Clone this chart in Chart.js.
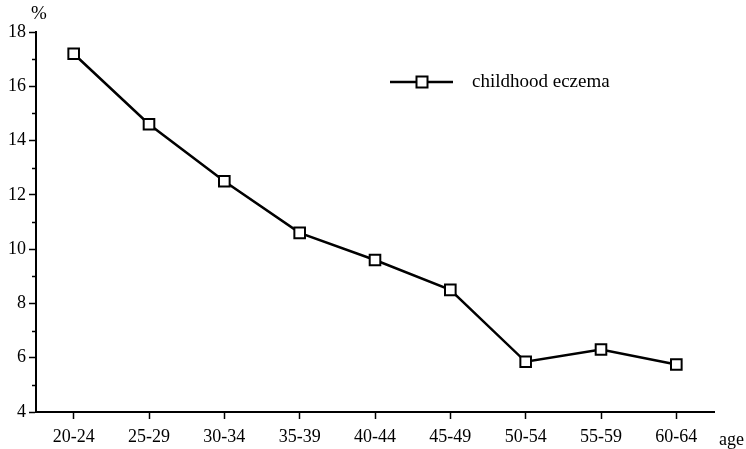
<!DOCTYPE html>
<html>
<head>
<meta charset="utf-8">
<script src="https://cdn.jsdelivr.net/npm/chart.js@4"></script>
<style>
  html, body { margin: 0; padding: 0; background: #fff; }
  #wrap { width: 746px; height: 449px; position: relative; }
</style>
</head>
<body>
<div id="wrap"><canvas id="chart"></canvas></div>
<script>
const ageGroups = ["20-24", "25-29", "30-34", "35-39", "40-44", "45-49", "50-54", "55-59", "60-64"];
const eczema = [17.2, 14.6, 12.5, 10.6, 9.6, 8.5, 5.85, 6.3, 5.75];
const yTicks = [4, 6, 8, 10, 12, 14, 16, 18];

const serif = "'Liberation Serif', 'Times New Roman', serif";

// small ticks at the odd values, "%" over the y axis, "age" after the x axis, legend box
const extras = {
  id: "extras",
  afterDraw(chart) {
    const ctx = chart.ctx;
    const y = chart.scales.y;
    const x = chart.scales.x;
    ctx.save();
    ctx.strokeStyle = "#000";
    ctx.lineWidth = 1.5;
    for (let v = 5; v < 18; v += 2) {
      const py = Math.round(y.getPixelForValue(v)) + 0.5;
      ctx.beginPath();
      ctx.moveTo(y.right - 4, py);
      ctx.lineTo(y.right, py);
      ctx.stroke();
    }

    ctx.fillStyle = "#000";
    ctx.font = "19px " + serif;
    ctx.textAlign = "center";
    ctx.textBaseline = "middle";
    ctx.fillText("%", y.right + 3, 14);

    ctx.textAlign = "left";
    ctx.font = "18px " + serif;
    ctx.fillText("age", x.right + 5, 440);

    // legend
    const ds = chart.data.datasets[0];
    const ly = 82;
    ctx.lineWidth = 2.5;
    ctx.beginPath();
    ctx.moveTo(390, ly);
    ctx.lineTo(453, ly);
    ctx.stroke();
    ctx.fillStyle = "#fff";
    ctx.lineWidth = 2;
    ctx.fillRect(416.5, ly - 5.5, 11, 11);
    ctx.strokeRect(416.5, ly - 5.5, 11, 11);
    ctx.fillStyle = "#000";
    ctx.font = "19px " + serif;
    ctx.fillText(ds.label, 472, ly);
    ctx.restore();
  }
};

new Chart(document.getElementById("chart"), {
  type: "line",
  data: {
    labels: ageGroups,
    datasets: [{
      label: "childhood eczema",
      data: eczema,
      borderColor: "#000",
      borderWidth: 2.5,
      tension: 0,
      pointStyle: "rect",
      pointRadius: 7.5,
      pointBorderWidth: 2,
      pointBackgroundColor: "#fff",
      pointBorderColor: "#000"
    }]
  },
  options: {
    responsive: true,
    maintainAspectRatio: false,
    animation: false,
    layout: { padding: { top: 32, right: 32, left: 0, bottom: 0 } },
    plugins: { legend: { display: false }, tooltip: { enabled: false } },
    scales: {
      x: {
        offset: true,
        grid: { drawOnChartArea: false, offset: false, color: "#000", tickLength: 7, tickWidth: 1.5 },
        border: { color: "#000", width: 2 },
        ticks: { color: "#000", font: { family: serif, size: 18 }, padding: 7, maxRotation: 0 },
        afterFit(scale) { scale.height = 37; }
      },
      y: {
        min: 4,
        max: 18,
        afterBuildTicks(scale) { scale.ticks = yTicks.map(v => ({ value: v })); },
        grid: { drawOnChartArea: false, color: "#000", tickLength: 7, tickWidth: 1.5 },
        border: { color: "#000", width: 2 },
        ticks: { color: "#000", font: { family: serif, size: 18 }, padding: 3 },
        afterFit(scale) { scale.width = 36; }
      }
    }
  },
  plugins: [extras]
});
</script>
</body>
</html>
